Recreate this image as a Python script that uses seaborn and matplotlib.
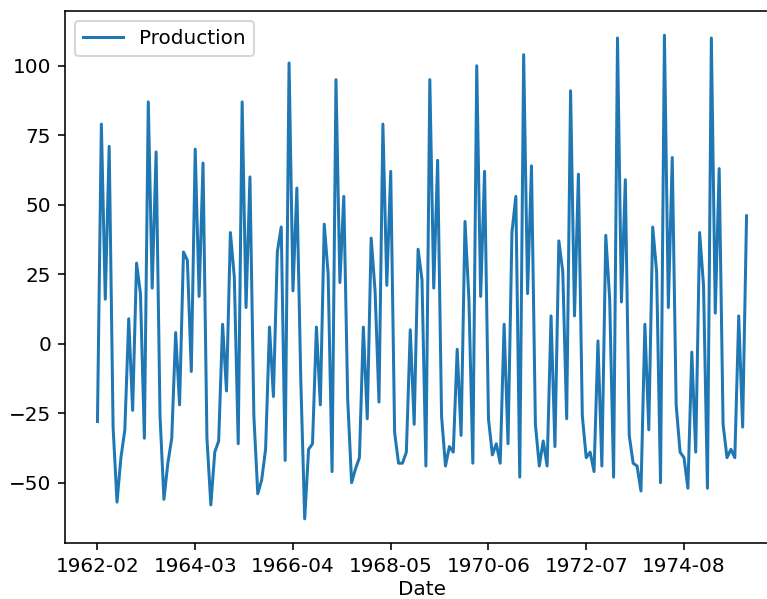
import pandas as pd
import matplotlib
matplotlib.use("Agg")
import matplotlib.pyplot as plt
import seaborn as sns

# Monthly change in production, 1962-02 .. 1975-12
datas = pd.period_range("1962-02", "1975-12", freq="M").strftime("%Y-%m").tolist()
producao = [
    -28, 79, 16, 71, -30, -57, -41, -31, 9, -24, 29,
    18, -34, 87, 20, 69, -26, -56, -43, -34, 4, -22, 33,
    30, -10, 70, 17, 65, -34, -58, -39, -35, 7, -17, 40,
    24, -36, 87, 13, 60, -26, -54, -49, -38, 6, -19, 33,
    42, -42, 101, 19, 56, -13, -63, -38, -36, 6, -22, 43,
    25, -46, 95, 22, 53, -20, -50, -45, -41, 6, -27, 38,
    19, -21, 79, 21, 62, -32, -43, -43, -39, 5, -29, 34,
    23, -44, 95, 20, 66, -26, -44, -37, -39, -2, -33, 44,
    16, -43, 100, 17, 62, -27, -40, -36, -43, 7, -36, 40,
    53, -48, 104, 18, 64, -29, -44, -35, -44, 10, -37, 37,
    26, -27, 91, 10, 61, -26, -41, -39, -46, 1, -44, 39,
    16, -48, 110, 15, 59, -33, -43, -44, -53, 7, -31, 42,
    26, -50, 111, 13, 67, -22, -39, -41, -52, -3, -39, 40,
    21, -52, 110, 11, 63, -29, -41, -38, -41, 10, -30, 46,
]

dados = pd.DataFrame({"Date": datas, "Production": producao})
dados["pos"] = range(len(dados))

dpi = 144
fig, ax = plt.subplots(figsize=(767 / dpi, 599 / dpi), dpi=dpi)
sns.lineplot(data=dados, x="pos", y="Production", label="Production", ax=ax)

passo = 25
ticks = list(range(0, len(datas), passo))
ax.set_xticks(ticks)
ax.set_xticklabels([datas[i] for i in ticks])
ax.set_xlabel("Date", labelpad=2)
ax.set_ylabel("")
ax.legend(loc="upper left")

# the reference is cut off on the right, so the axes run past the figure edge
plt.subplots_adjust(left=65 / 767, right=779 / 767, top=1 - 11 / 599, bottom=1 - 543 / 599)
plt.savefig("out.png", dpi=dpi)
